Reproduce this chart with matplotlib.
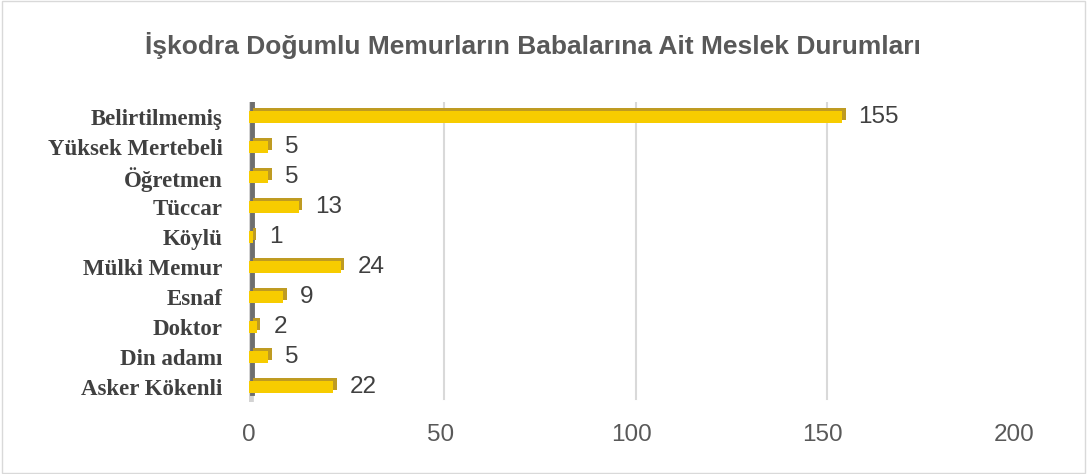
import matplotlib
matplotlib.use("Agg")
import matplotlib.pyplot as plt
import matplotlib.patheffects as pe
import matplotlib.transforms as mtrans
from matplotlib.patches import Rectangle

categories = ["Belirtilmemiş", "Yüksek Mertebeli", "Öğretmen", "Tüccar", "Köylü",
              "Mülki Memur", "Esnaf", "Doktor", "Din adamı", "Asker Kökenli"]
values = [155, 5, 5, 13, 1, 24, 9, 2, 5, 22]
xticks = [0, 50, 100, 150, 200]
title = "İşkodra Doğumlu Memurların Babalarına Ait Meslek Durumları"

fig = plt.figure(figsize=(10.87, 4.74), dpi=100)
ax = fig.add_axes([0.2291, 0.152, 0.7038, 0.633])

n = len(categories)
ypos = list(range(n))[::-1]

bars = ax.barh(ypos, values, height=0.4, color="#F7CC00", edgecolor="none", zorder=3)
for b in bars:
    b.set_path_effects([pe.SimplePatchShadow(offset=(2.6, 2.2), shadow_rgbFace="#BF9B22", alpha=1.0),
                        pe.Normal()])

for y, v in zip(ypos, values):
    ax.annotate(str(v), (v, y), xytext=(12, 0), textcoords="offset points",
                va="center", ha="left", fontsize=17.5, color="#404040",
                family="Liberation Sans")

ax.set_xlim(0, 200)
ax.set_ylim(-0.5, n - 0.5)
ax.set_xticks(xticks)
ax.set_xticklabels([str(t) for t in xticks], fontsize=17.5, color="#595959", family="Liberation Sans")
ax.set_yticks(ypos)
ax.set_yticklabels(categories, fontsize=16.5, fontweight="bold", color="#404040",
                   family="Liberation Serif")
ax.tick_params(axis="both", length=0)
ax.tick_params(axis="x", pad=16)
ax.tick_params(axis="y", pad=19)

# gridlines on the back plane (slightly shifted, as in a 3-D chart)
shift = mtrans.ScaledTranslation(4 / 100, 3 / 100, fig.dpi_scale_trans)
for t in xticks[1:]:
    ln = ax.axvline(t, color="#D9D9D9", lw=1.5, zorder=1)
    ln.set_transform(ln.get_transform() + shift)

for s in ax.spines.values():
    s.set_visible(False)

# 3D side wall
ax.axvline(0, color="#D3D3D3", lw=7, zorder=2, ymin=-0.01, ymax=1.0)
ax.axvline(0.8, color="#6E6E6E", lw=3.5, zorder=2, ymin=0.03, ymax=1.01)

fig.text(0.49, 0.905, title, ha="center", va="center", fontsize=19, fontweight="bold",
         color="#595959", family="Liberation Sans")

fig.patches.append(Rectangle((0.002, 0.003), 0.996, 0.994, transform=fig.transFigure,
                             fill=False, edgecolor="#D9D9D9", lw=1))

fig.savefig("out.png", dpi=100)
